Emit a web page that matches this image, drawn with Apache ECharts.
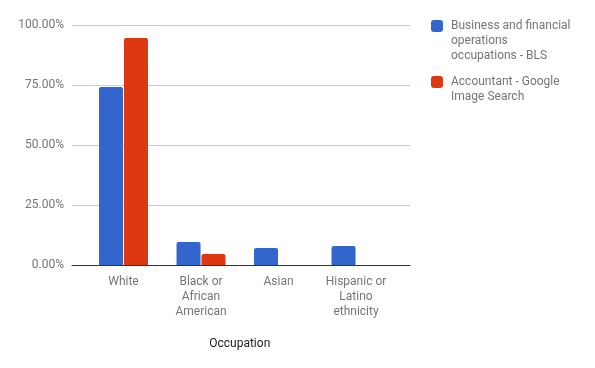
<!DOCTYPE html>
<html>
<head>
<meta charset="utf-8">
<script src="https://cdn.jsdelivr.net/npm/echarts@6/dist/echarts.min.js"></script>
<style>html,body{margin:0;padding:0;background:#fff}#c{width:595px;height:368px}</style>
</head>
<body>
<div id="c"></div>
<script>
const categories = ['White', 'Black or\nAfrican\nAmerican', 'Asian', 'Hispanic or\nLatino\nethnicity'];
const blsValues = [74.2, 9.6, 7.1, 7.9];
const googleValues = [94.6, 4.6, 0, 0];
const seriesNames = ['Business and financial operations occupations - BLS', 'Accountant - Google Image Search'];
const legendLabels = [['Business and financial', 'operations', 'occupations - BLS'], ['Accountant - Google', 'Image Search']];
const yTicks = [0, 25, 50, 75, 100];

const FONT = 'Roboto';
const GREY = '#757575';
// prepend blank lines so that the first text line sits level with the legend icon
const legendText = lines => '\n'.repeat(lines.length - 1) + lines.join('\n');

const chart = echarts.init(document.getElementById('c'), null, {renderer: 'canvas'});
chart.setOption({
  animation: false,
  textStyle: {fontFamily: FONT},
  grid: [
    {left: 72, right: 185, top: 25, bottom: 103},
    {left: 84.75, width: 310, top: 25, bottom: 103}
  ],
  xAxis: [
    {gridIndex: 0, type: 'value', min: 0, max: 1, axisLabel: {show: false}, axisTick: {show: false}, splitLine: {show: false},
     axisLine: {show: true, lineStyle: {color: '#333', width: 1}}},
    {gridIndex: 1, type: 'category', data: categories, axisLine: {show: false}, axisTick: {show: false},
     axisLabel: {color: GREY, fontSize: 12, fontFamily: FONT, lineHeight: 15, margin: 9, interval: 0},
     name: 'Occupation', nameLocation: 'middle', nameGap: 73,
     nameTextStyle: {color: '#222', fontSize: 12, fontFamily: FONT}}
  ],
  yAxis: [
    {gridIndex: 0, type: 'value', min: 0, max: 100, interval: 25,
     axisLine: {show: false}, axisTick: {show: false},
     axisLabel: {color: GREY, fontSize: 12, fontFamily: FONT, margin: 8, formatter: v => yTicks.includes(v) ? v.toFixed(2) + '%' : ''},
     splitLine: {lineStyle: {color: '#cccccc', width: 1}}},
    {gridIndex: 1, type: 'value', min: 0, max: 100, interval: 25, show: false, splitLine: {show: false}}
  ],
  legend: [
    {orient: 'vertical', left: 431, top: 20 + 6 - 37.5, padding: 0, itemWidth: 12, itemHeight: 12, icon: 'roundRect',
     data: [seriesNames[0]], formatter: () => legendText(legendLabels[0]),
     textStyle: {color: GREY, fontSize: 12, fontFamily: FONT, lineHeight: 15, padding: [0, 0, 0, 3]}},
    {orient: 'vertical', left: 431, top: 76 + 6 - 22.5, padding: 0, itemWidth: 12, itemHeight: 12, icon: 'roundRect',
     data: [seriesNames[1]], formatter: () => legendText(legendLabels[1]),
     textStyle: {color: GREY, fontSize: 12, fontFamily: FONT, lineHeight: 15, padding: [0, 0, 0, 3]}}
  ],
  series: [
    {name: seriesNames[0], type: 'bar', xAxisIndex: 1, yAxisIndex: 1, data: blsValues, barWidth: 24, barGap: '4%',
     itemStyle: {color: '#3366cc', borderRadius: [2, 2, 0, 0]}},
    {name: seriesNames[1], type: 'bar', xAxisIndex: 1, yAxisIndex: 1, data: googleValues, barWidth: 24, barGap: '4%',
     itemStyle: {color: '#dc3912', borderRadius: [2, 2, 0, 0]}}
  ]
});
</script>
</body>
</html>
